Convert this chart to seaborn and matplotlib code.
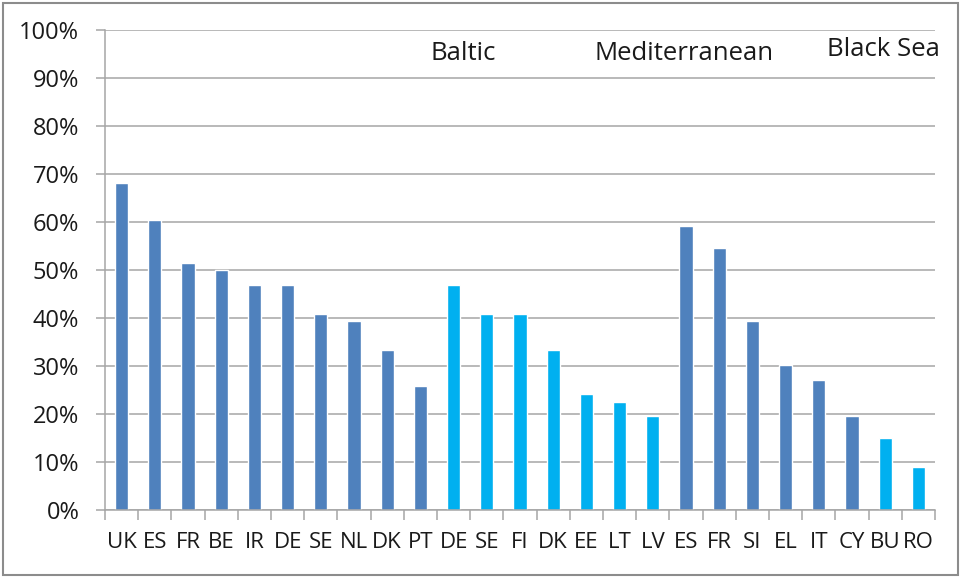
import matplotlib
matplotlib.use('Agg')
import matplotlib.pyplot as plt
import seaborn as sns
import numpy as np
from matplotlib.patches import Rectangle
from matplotlib.ticker import FixedLocator, PercentFormatter

# data
countries = ['UK', 'ES', 'FR', 'BE', 'IR', 'DE', 'SE', 'NL', 'DK', 'PT',
             'DE', 'SE', 'FI', 'DK', 'EE', 'LT', 'LV',
             'ES', 'FR', 'SI', 'EL', 'IT', 'CY',
             'BU', 'RO']
values = [68.2, 60.4, 51.4, 50.1, 46.8, 46.8, 40.8, 39.4, 33.3, 25.8,
          46.8, 40.8, 40.8, 33.3, 24.1, 22.6, 19.6,
          59.2, 54.6, 39.4, 30.3, 27.1, 19.6,
          15.1, 8.9]
sea = ['Atlantic'] * 10 + ['Baltic'] * 7 + ['Mediterranean'] * 6 + ['Black Sea'] * 2
sea_colors = {'Atlantic': '#4F81BD', 'Baltic': '#00B0F0',
              'Mediterranean': '#4F81BD', 'Black Sea': '#00B0F0'}

sns.set_style('white')
plt.rcParams['font.family'] = ['Open Sans', 'DejaVu Sans']

fig = plt.figure(figsize=(9.62, 5.78), dpi=100)
ax = fig.add_axes([105 / 962, 1 - 510 / 578, 830 / 962, 480 / 578])

pos = list(range(len(countries)))
sns.barplot(x=pos, y=values, hue=sea, palette=sea_colors, dodge=False, saturation=1,
            width=0.4, legend=False, ax=ax)

ax.set_xlim(-0.5, len(countries) - 0.5)
ax.set_ylim(0, 100)
ax.yaxis.set_major_locator(FixedLocator(np.arange(0, 101, 10)))
ax.yaxis.set_major_formatter(PercentFormatter(decimals=0))
ax.grid(axis='y', color='#A6A6A6', linewidth=1.1)
ax.set_axisbelow(True)

for s in ['top', 'right']:
    ax.spines[s].set_visible(False)
for s in ['left', 'bottom']:
    ax.spines[s].set_color('#A6A6A6')
    ax.spines[s].set_linewidth(1.1)

ax.set_xticks(pos)
ax.set_xticklabels(countries)
ax.set_xticks(np.arange(-0.5, len(countries)), minor=True)
ax.tick_params(axis='x', which='major', length=0, pad=16, labelsize=16, colors='#1a1a1a')
ax.tick_params(axis='x', which='minor', length=7, width=1.1, color='#A6A6A6', direction='out', bottom=True)
ax.tick_params(axis='y', length=6.5, width=1.1, color='#A6A6A6', pad=12, labelsize=17,
               labelcolor='#1a1a1a', left=True)
ax.set_xlabel('')
ax.set_ylabel('')

ax.text(10.28, 95.2, 'Baltic', ha='center', va='center', fontsize=18.5, color='#1a1a1a')
ax.text(16.94, 95.2, 'Mediterranean', ha='center', va='center', fontsize=18.5, color='#1a1a1a')
ax.text(22.95, 96.0, 'Black Sea', ha='center', va='center', fontsize=18.5, color='#1a1a1a')

fig.patches.append(Rectangle((3 / 962, 3 / 578), 955 / 962, 572 / 578, transform=fig.transFigure,
                             fill=False, edgecolor='#8C8C8C', linewidth=1.5))

fig.savefig('out.png', dpi=100)
